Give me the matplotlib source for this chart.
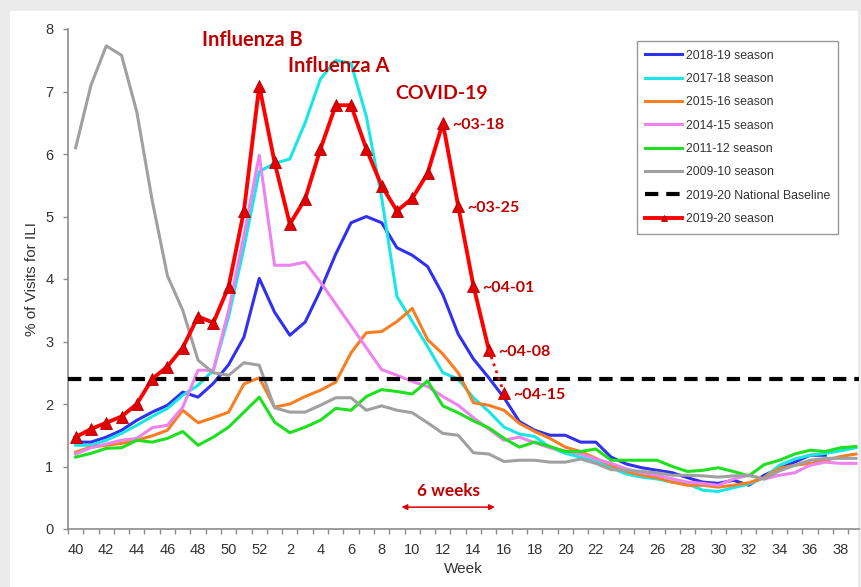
import numpy as np
import matplotlib
matplotlib.use("Agg")
import matplotlib.pyplot as plt
from matplotlib.patches import Rectangle

# week labels: season runs week 40 -> week 39
weeks = list(range(40, 53)) + list(range(1, 40))

s1819 = [1.39, 1.39, 1.47, 1.58, 1.74, 1.87, 1.98, 2.19, 2.11, 2.33, 2.63, 3.07, 4.01,
         3.47, 3.10, 3.31, 3.82, 4.40, 4.90, 5.00, 4.90, 4.50, 4.38, 4.20, 3.75, 3.12,
         2.72, 2.42, 2.10, 1.72, 1.58, 1.50, 1.50, 1.39, 1.39, 1.15, 1.04, 0.98, 0.94,
         0.90, 0.82, 0.75, 0.73, 0.78, 0.70, 0.86, 0.97, 1.07, 1.18, 1.18]
s1718 = [1.34, 1.34, 1.42, 1.53, 1.66, 1.80, 1.93, 2.14, 2.30, 2.54, 3.40, 4.50, 5.72,
         5.85, 5.92, 6.50, 7.20, 7.50, 7.45, 6.60, 5.30, 3.72, 3.32, 2.92, 2.50, 2.40,
         2.10, 1.88, 1.63, 1.52, 1.48, 1.31, 1.21, 1.15, 1.08, 0.98, 0.88, 0.83, 0.80,
         0.75, 0.72, 0.62, 0.60, 0.66, 0.72, 0.82, 1.02, 1.12, 1.18, 1.21, 1.25, 1.30]
s1516 = [1.23, 1.31, 1.34, 1.37, 1.42, 1.49, 1.58, 1.90, 1.70, 1.78, 1.87, 2.32, 2.42,
         1.95, 2.00, 2.12, 2.22, 2.35, 2.82, 3.14, 3.16, 3.32, 3.53, 3.03, 2.80, 2.50,
         2.02, 1.98, 1.90, 1.69, 1.56, 1.45, 1.31, 1.24, 1.13, 1.02, 0.92, 0.86, 0.82,
         0.75, 0.70, 0.70, 0.67, 0.70, 0.74, 0.82, 0.97, 1.02, 1.05, 1.10, 1.16, 1.20]
s1415 = [1.20, 1.30, 1.36, 1.42, 1.45, 1.62, 1.66, 1.95, 2.54, 2.54, 3.50, 4.70, 5.98,
         4.22, 4.22, 4.27, 3.95, 3.60, 3.25, 2.90, 2.55, 2.46, 2.36, 2.28, 2.12, 1.98,
         1.78, 1.60, 1.42, 1.47, 1.38, 1.30, 1.25, 1.20, 1.12, 1.05, 0.96, 0.90, 0.86,
         0.80, 0.75, 0.73, 0.70, 0.80, 0.86, 0.80, 0.86, 0.90, 1.02, 1.07, 1.05, 1.05]
s1112 = [1.15, 1.21, 1.29, 1.30, 1.42, 1.39, 1.45, 1.56, 1.34, 1.47, 1.63, 1.87, 2.11,
         1.71, 1.54, 1.63, 1.74, 1.93, 1.90, 2.12, 2.23, 2.20, 2.16, 2.37, 1.97, 1.86,
         1.73, 1.62, 1.45, 1.31, 1.39, 1.32, 1.24, 1.24, 1.28, 1.10, 1.10, 1.10, 1.10,
         1.00, 0.92, 0.94, 0.98, 0.92, 0.85, 1.03, 1.10, 1.20, 1.26, 1.24, 1.30, 1.32]
s0910 = [6.10, 7.10, 7.73, 7.58, 6.67, 5.26, 4.05, 3.50, 2.70, 2.50, 2.46, 2.66, 2.62,
         1.94, 1.87, 1.87, 1.98, 2.10, 2.10, 1.90, 1.97, 1.90, 1.86, 1.70, 1.53, 1.50,
         1.22, 1.20, 1.08, 1.10, 1.10, 1.07, 1.07, 1.12, 1.05, 0.95, 0.94, 0.92, 0.90,
         0.86, 0.86, 0.85, 0.83, 0.85, 0.86, 0.80, 0.93, 1.02, 1.10, 1.13, 1.13, 1.13]
s1920 = [1.47, 1.60, 1.70, 1.80, 2.00, 2.40, 2.60, 2.90, 3.40, 3.30, 3.88, 5.09, 7.09,
         5.87, 4.88, 5.28, 6.08, 6.78, 6.78, 6.08, 5.49, 5.09, 5.29, 5.69, 6.50, 5.17,
         3.89, 2.87, 2.17]
baseline = 2.4

date_labels = ["~03-18", "~03-25", "~04-01", "~04-08", "~04-15"]

fig = plt.figure(figsize=(8.62, 5.87), dpi=100)
fig.patch.set_facecolor("#ebebeb")
fig.add_artist(Rectangle((10/862, 0), 848/862, 576/587, transform=fig.transFigure,
                         facecolor="white", edgecolor="none", zorder=0))
ax = fig.add_axes([68/862, 58/587, 791/862, 500/587])
ax.set_facecolor("none")

lw = 2.2
series = [
    (s1819, "#3030f0", "2018-19 season"),
    (s1718, "#19e6e6", "2017-18 season"),
    (s1516, "#f77f22", "2015-16 season"),
    (s1415, "#ee82ee", "2014-15 season"),
    (s1112, "#1ee01e", "2011-12 season"),
    (s0910, "#a0a0a0", "2009-10 season"),
]
for vals, col, lab in series:
    ax.plot(np.arange(len(vals)), vals, color=col, lw=lw, label=lab, zorder=2)

ax.axhline(baseline, color="black", lw=3, ls=(0, (3.2, 1.9)),
           label="2019-20 National Baseline", zorder=3)

x_red = np.arange(len(s1920))
ax.plot(x_red[:-1], s1920[:-1], color="#ff0000", lw=2.8, marker="^", ms=8.5,
        mfc="#e00000", mec="#b00000", mew=0.6, label="2019-20 season", zorder=4)
ax.plot(x_red[-2:], s1920[-2:], color="#ff0000", lw=2, ls=":", zorder=4)
ax.plot(x_red[-1:], s1920[-1:], color="#ff0000", lw=0, marker="^", ms=8.5,
        mfc="#e00000", mec="#b00000", mew=0.6, zorder=4)

# annotations
ann = dict(color="#c00000", fontweight="bold", family=["Lato", "DejaVu Sans"])
ax.text(11.55, 7.82, "Influenza B", ha="center", va="center", fontsize=14.5, **ann)
ax.text(17.2, 7.40, "Influenza A", ha="center", va="center", fontsize=14.5, **ann)
ax.text(23.9, 6.97, "COVID-19", ha="center", va="center", fontsize=14, **ann)
for k, lab in enumerate(date_labels):
    i = 24 + k
    ax.text(i + 0.6, s1920[i] - 0.03, lab, ha="left", va="center", fontsize=11.5, **ann)
ax.text(24.35, 0.61, "6 weeks", ha="center", va="center", fontsize=12.3, **ann)
ax.annotate("", xy=(21.3, 0.35), xytext=(27.4, 0.35),
            arrowprops=dict(arrowstyle="<|-|>", color="#e00000", lw=1.1,
                            mutation_scale=8, shrinkA=0, shrinkB=0))

# axes styling
ax.set_xlim(-0.5, 51.2)
ax.set_ylim(0, 8)
for s in ["top", "right"]:
    ax.spines[s].set_visible(False)
for s in ["left", "bottom"]:
    ax.spines[s].set_color("#8c8c8c")
    ax.spines[s].set_linewidth(1.2)

tick_font = ["Liberation Sans Narrow", "Liberation Sans", "DejaVu Sans"]
ax.set_xticks(range(0, 52, 2))
ax.set_xticklabels([str(weeks[i]) for i in range(0, 52, 2)], family=tick_font,
                   fontsize=10.5, color="#333333")
ax.set_xticks(np.arange(-0.5, 51, 1), minor=True)
ax.tick_params(axis="x", which="major", length=0, pad=10)
ax.tick_params(axis="x", which="minor", length=3.5, color="#8c8c8c", width=1)
ax.set_yticks(range(0, 9))
ax.set_yticklabels([str(v) for v in range(0, 9)], family=tick_font,
                   fontsize=10.5, color="#333333")
ax.tick_params(axis="y", length=3.5, color="#8c8c8c", width=1, pad=7)

ax.set_xlabel("Week", fontsize=11, color="#333333", family=tick_font)
ax.xaxis.set_label_coords(0.5, -0.066)
ax.set_ylabel("% of Visits for ILI", fontsize=11, color="#333333", family=tick_font)
ax.yaxis.set_label_coords(-0.037, 0.5)

leg = ax.legend(loc="upper right", bbox_to_anchor=(0.974, 0.976),
                handlelength=3.0, handletextpad=0.3, labelspacing=0.93,
                borderpad=0.7, borderaxespad=0, numpoints=1, markerscale=0.5,
                fancybox=False, framealpha=1, edgecolor="#999999",
                prop={"family": tick_font, "size": 8.8})
for t in leg.get_texts():
    t.set_color("#333333")
leg.get_frame().set_linewidth(1.0)
leg.set_zorder(6)

fig.savefig("out.png", dpi=100, facecolor=fig.get_facecolor())
